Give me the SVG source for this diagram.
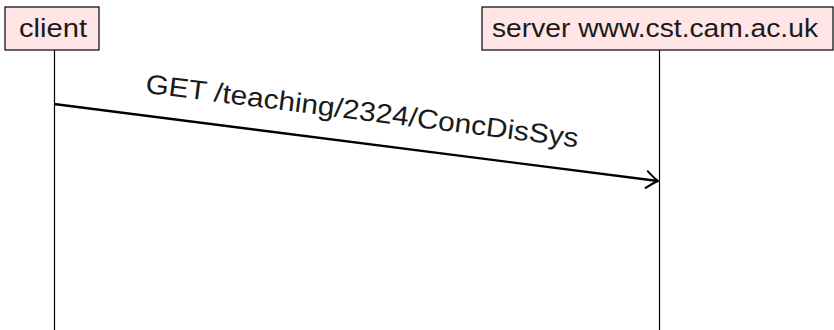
<svg xmlns="http://www.w3.org/2000/svg" width="834" height="330" viewBox="0 0 834 330">
<defs>
<style>
.box{fill:#ffe5e5;stroke:#000;stroke-width:1.2}
.lbl{font-family:"Liberation Sans","DejaVu Sans",sans-serif;fill:#1a1a1a}
.life{stroke:#000;stroke-width:1.2}
.msg{stroke:#000;stroke-width:2.4;fill:none}
</style>
<marker id="open" viewBox="0 0 14 20" refX="13" refY="10" markerWidth="14" markerHeight="20" markerUnits="userSpaceOnUse" orient="auto">
<path d="M1,1 Q8,7 13,10 Q8,13 1,19" fill="none" stroke="#000" stroke-width="2"/>
</marker>
</defs>
<rect width="834" height="330" fill="#fff"/>
<g id="connectors">
<line class="life" x1="54.5" y1="50" x2="54.5" y2="330"/>
<line class="life" x1="659.5" y1="50" x2="659.5" y2="330"/>
<line class="msg" x1="54" y1="104" x2="658" y2="181" marker-end="url(#open)"/>
<text class="lbl" x="361" y="120" font-size="27" text-anchor="middle" textLength="436" lengthAdjust="spacingAndGlyphs" transform="rotate(7.2 361 120)">GET /teaching/2324/ConcDisSys</text>
</g>
<g id="client">
<rect class="box" x="5" y="7" width="94" height="43"/>
<text class="lbl" x="53" y="37" font-size="25" text-anchor="middle" textLength="68" lengthAdjust="spacingAndGlyphs">client</text>
</g>
<g id="server">
<rect class="box" x="482" y="7" width="351" height="43"/>
<text class="lbl" x="655" y="37" font-size="25" text-anchor="middle" textLength="326" lengthAdjust="spacingAndGlyphs">server www.cst.cam.ac.uk</text>
</g>
</svg>
